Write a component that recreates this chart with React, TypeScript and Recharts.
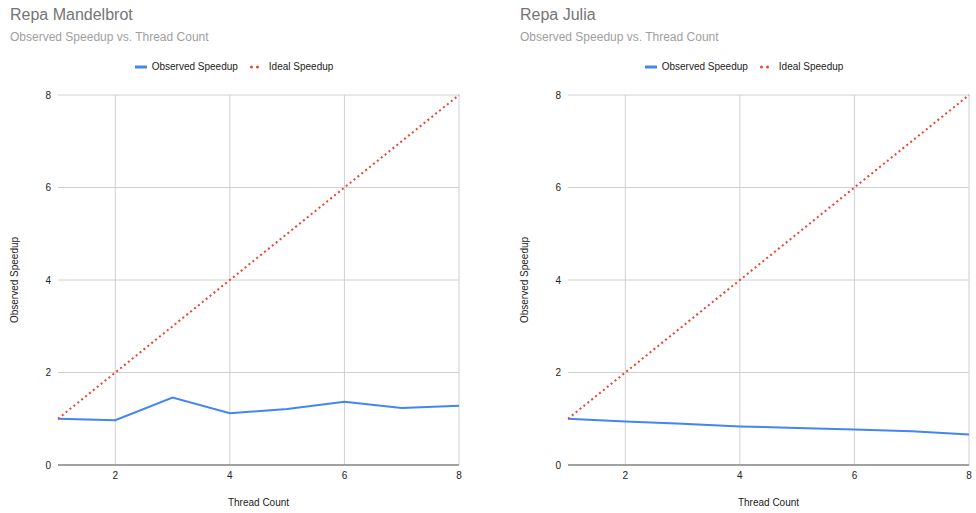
import React from "react";
import { LineChart, Line, XAxis, YAxis, CartesianGrid, Legend, Label, ReferenceLine } from "recharts";

// thread counts on the x axis
const threads = [1, 2, 3, 4, 5, 6, 7, 8];
// measured speedups
const mandelbrotSpeedup = [1.0, 0.97, 1.46, 1.12, 1.21, 1.37, 1.23, 1.28];
const juliaSpeedup = [1.0, 0.94, 0.89, 0.835, 0.8, 0.765, 0.73, 0.66];
// perfect linear scaling
const idealSpeedup = [1, 2, 3, 4, 5, 6, 7, 8];

const xDomain: [number, number] = [1, 8];
const xTicks = [2, 4, 6, 8];
const yTicks = [0, 2, 4, 6, 8];

const BLUE = "#4285f4";
const RED = "#ea4335";
const GRID = "#d0d0d0";
const FONT = "Arial, 'Liberation Sans', sans-serif";

const buildRows = (observed: number[]) =>
  threads.map((t, i) => ({ threads: t, observed: observed[i], ideal: idealSpeedup[i] }));

const LegendContent = () => (
  <div
    style={{
      display: "flex",
      justifyContent: "center",
      alignItems: "center",
      fontFamily: FONT,
      fontSize: 10,
      color: "#222",
    }}
  >
    <svg width={12} height={4} style={{ marginRight: 5 }}>
      <line x1={0} y1={2} x2={12} y2={2} stroke={BLUE} strokeWidth={3} strokeLinecap="round" />
    </svg>
    <span>Observed Speedup</span>
    <svg width={10} height={4} style={{ marginLeft: 12, marginRight: 9 }}>
      <circle cx={1.5} cy={2} r={1.5} fill={RED} />
      <circle cx={7.5} cy={2} r={1.5} fill={RED} />
    </svg>
    <span>Ideal Speedup</span>
  </div>
);

function SpeedupChart({ title, observed }: { title: string; observed: number[] }) {
  const data = buildRows(observed);
  return (
    <div style={{ position: "relative", width: 476, height: 513 }}>
      <div
        style={{
          position: "absolute",
          left: 10,
          top: 7,
          fontFamily: FONT,
          fontSize: 16,
          lineHeight: "16px",
          color: "#757575",
        }}
      >
        {title}
      </div>
      <div
        style={{
          position: "absolute",
          left: 10,
          top: 31,
          fontFamily: FONT,
          fontSize: 12,
          lineHeight: "12px",
          color: "#a0a0a0",
        }}
      >
        Observed Speedup vs. Thread Count
      </div>
      <LineChart
        width={476}
        height={513}
        data={data}
        margin={{ top: 84, right: 17, bottom: 0, left: 0 }}
        style={{ fontFamily: FONT }}
      >
        <CartesianGrid stroke={GRID} strokeWidth={1} vertical={false} />
        {/* vertical grid only at the labelled ticks, nothing on the left edge */}
        {xTicks.map((t) => (
          <ReferenceLine key={t} x={t} stroke={GRID} strokeWidth={1} />
        ))}
        <XAxis
          dataKey="threads"
          type="number"
          domain={xDomain}
          ticks={xTicks}
          height={48}
          tickSize={0}
          tickMargin={7}
          tick={{ fontSize: 10, fill: "#222" }}
          axisLine={{ stroke: "#8a8a8a", strokeWidth: 1.5 }}
        >
          <Label
            content={({ viewBox }: any) => (
              <text
                x={viewBox.x + viewBox.width / 2}
                y={viewBox.y + 41}
                textAnchor="middle"
                fontSize={10}
                fill="#222"
              >
                Thread Count
              </text>
            )}
          />
        </XAxis>
        <YAxis
          type="number"
          domain={[0, 8]}
          ticks={yTicks}
          width={58}
          tickSize={0}
          tickMargin={7}
          axisLine={false}
          tick={{ fontSize: 10, fill: "#222" }}
        >
          <Label
            content={({ viewBox }: any) => {
              const cy = viewBox.y + viewBox.height / 2;
              return (
                <text
                  x={18}
                  y={cy}
                  transform={`rotate(-90 18 ${cy})`}
                  textAnchor="middle"
                  fontSize={10}
                  fill="#222"
                >
                  Observed Speedup
                </text>
              );
            }}
          />
        </YAxis>
        <Legend
          verticalAlign="top"
          content={<LegendContent />}
          wrapperStyle={{ top: 61, left: 0, width: 468 }}
        />
        <Line
          dataKey="observed"
          name="Observed Speedup"
          stroke={BLUE}
          strokeWidth={2}
          dot={false}
          isAnimationActive={false}
        />
        <Line
          dataKey="ideal"
          name="Ideal Speedup"
          stroke={RED}
          strokeWidth={2}
          strokeDasharray="2 3"
          dot={false}
          isAnimationActive={false}
        />
      </LineChart>
    </div>
  );
}

export default function App() {
  return (
    <div style={{ position: "absolute", left: 0, top: 0, width: 976, height: 513, background: "#fff" }}>
      <div style={{ position: "absolute", left: 0, top: 0 }}>
        <SpeedupChart title="Repa Mandelbrot" observed={mandelbrotSpeedup} />
      </div>
      <div style={{ position: "absolute", left: 510, top: 0 }}>
        <SpeedupChart title="Repa Julia" observed={juliaSpeedup} />
      </div>
    </div>
  );
}
